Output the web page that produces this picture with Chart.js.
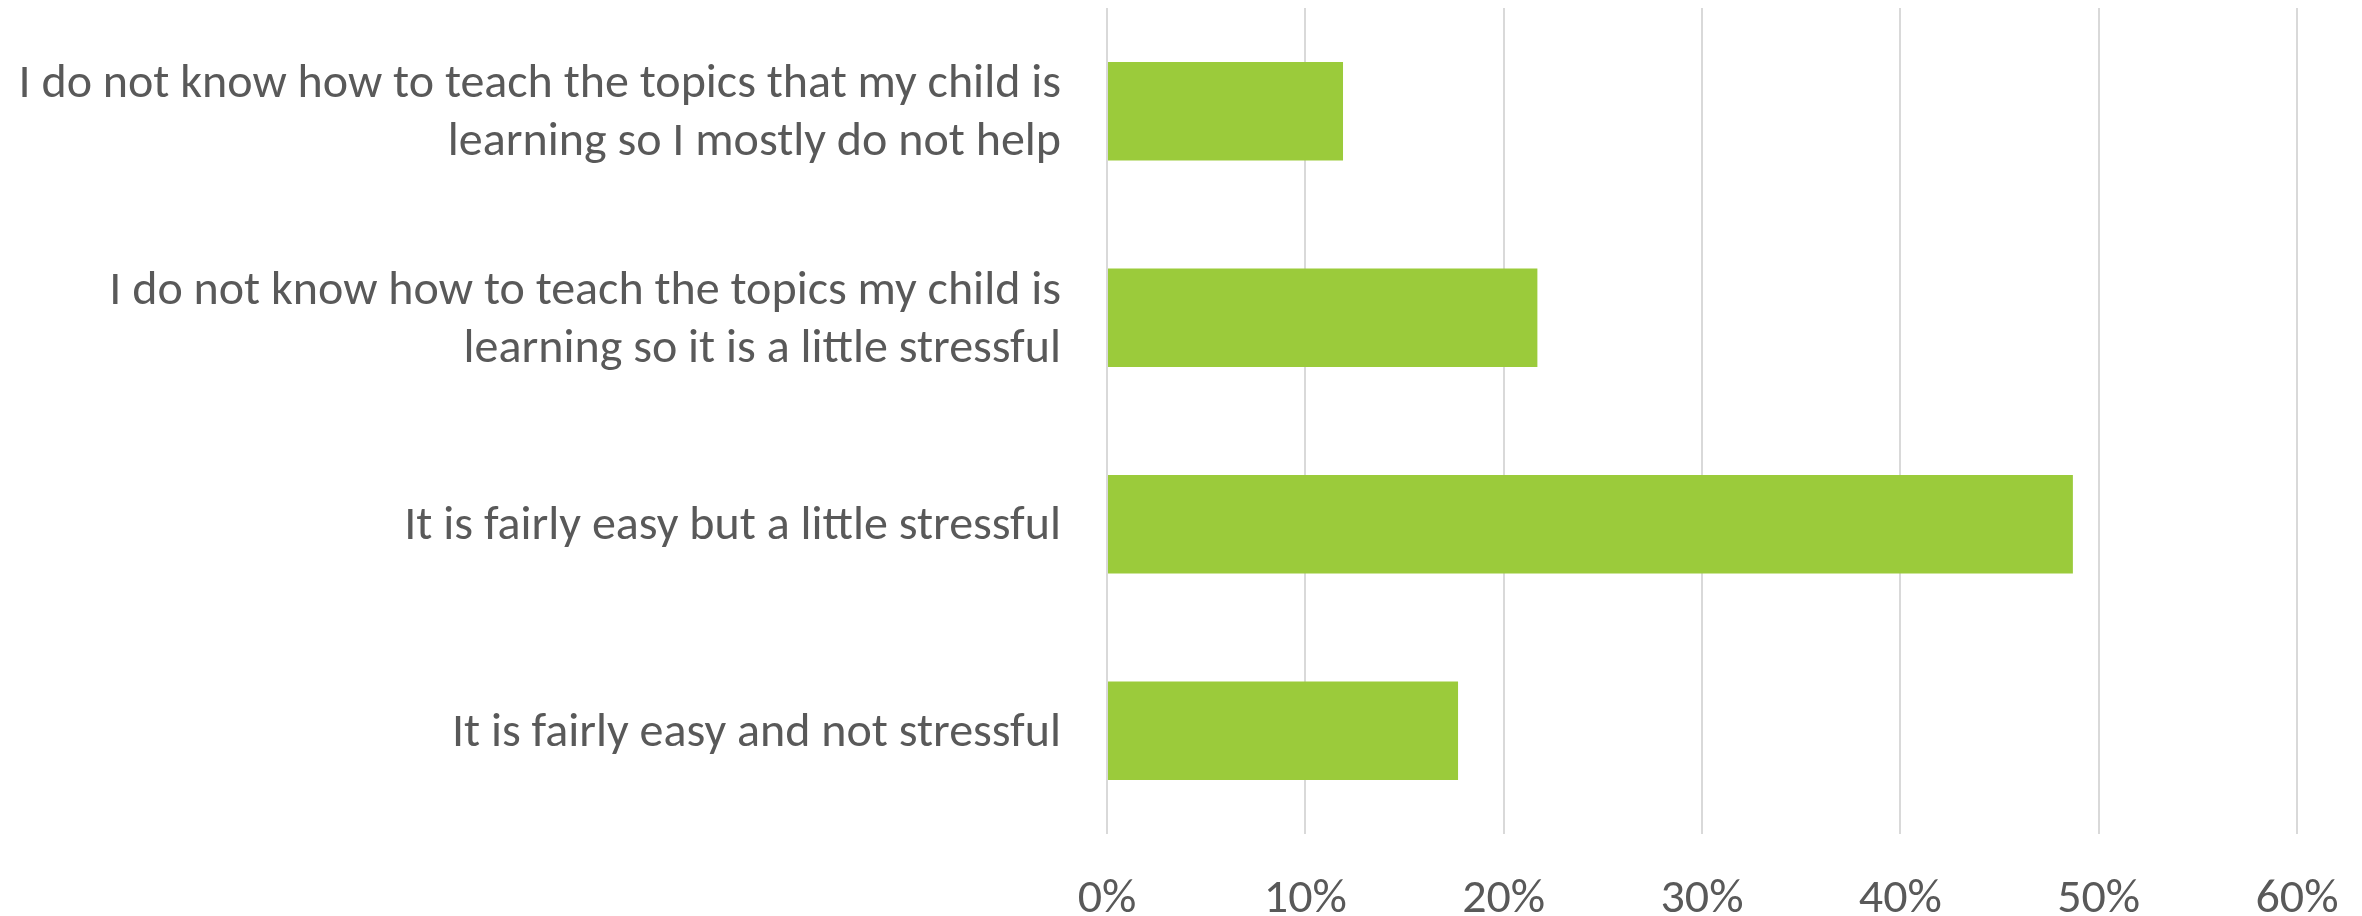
<!DOCTYPE html>
<html>
<head>
<meta charset="utf-8">
<script src="https://cdn.jsdelivr.net/npm/chart.js@4"></script>
<style>
  html, body { margin: 0; padding: 0; background: #ffffff; }
  #wrap { width: 2362px; height: 916px; }
</style>
</head>
<body>
<div id="wrap"><canvas id="surveyChart" width="2362" height="916"></canvas></div>
<script>
const categories = [
    ['I do not know how to teach the topics that my child is', 'learning so I mostly do not help'],
    ['I do not know how to teach the topics my child is', 'learning so it is a little stressful'],
    'It is fairly easy but a little stressful',
    'It is fairly easy and not stressful'
];
const shares = [11.9, 21.7, 48.7, 17.7];
const tickMax = 60;
const tickStep = 10;

const fontFamily = "Carlito, 'Liberation Sans Narrow', 'Open Sans', sans-serif";
const textColor = '#595959';

document.addEventListener('DOMContentLoaded', () => {
    const ctx = document.getElementById('surveyChart').getContext('2d');
    new Chart(ctx, {
        type: 'bar',
        data: {
            labels: categories,
            datasets: [{
                data: shares,
                backgroundColor: '#9BCB3B',
                borderWidth: 0,
                categoryPercentage: 1,
                barPercentage: 0.476
            }]
        },
        options: {
            indexAxis: 'y',
            responsive: false,
            animation: false,
            layout: { padding: { top: 8, right: 65, left: 0, bottom: 0 } },
            plugins: {
                legend: { display: false },
                tooltip: { enabled: false }
            },
            scales: {
                x: {
                    min: 0,
                    max: tickMax,
                    border: { display: false },
                    grid: { color: '#D9D9D9', lineWidth: 2, drawTicks: false },
                    ticks: {
                        stepSize: tickStep,
                        padding: 37,
                        color: textColor,
                        font: { family: fontFamily, size: 48 },
                        callback: v => v + '%'
                    },
                    afterFit: scale => {
                        scale.height = 82;
                        scale.paddingLeft = 0;
                        scale.paddingRight = 0;
                    }
                },
                y: {
                    border: { display: false },
                    grid: { display: false, drawTicks: false },
                    ticks: {
                        padding: 46,
                        labelOffset: 3,
                        color: textColor,
                        font: { family: fontFamily, size: 48, lineHeight: 1.2 }
                    },
                    afterFit: scale => {
                        scale.width = 1107;
                        scale.paddingTop = 0;
                        scale.paddingBottom = 0;
                    }
                }
            }
        }
    });
});
</script>
</body>
</html>
